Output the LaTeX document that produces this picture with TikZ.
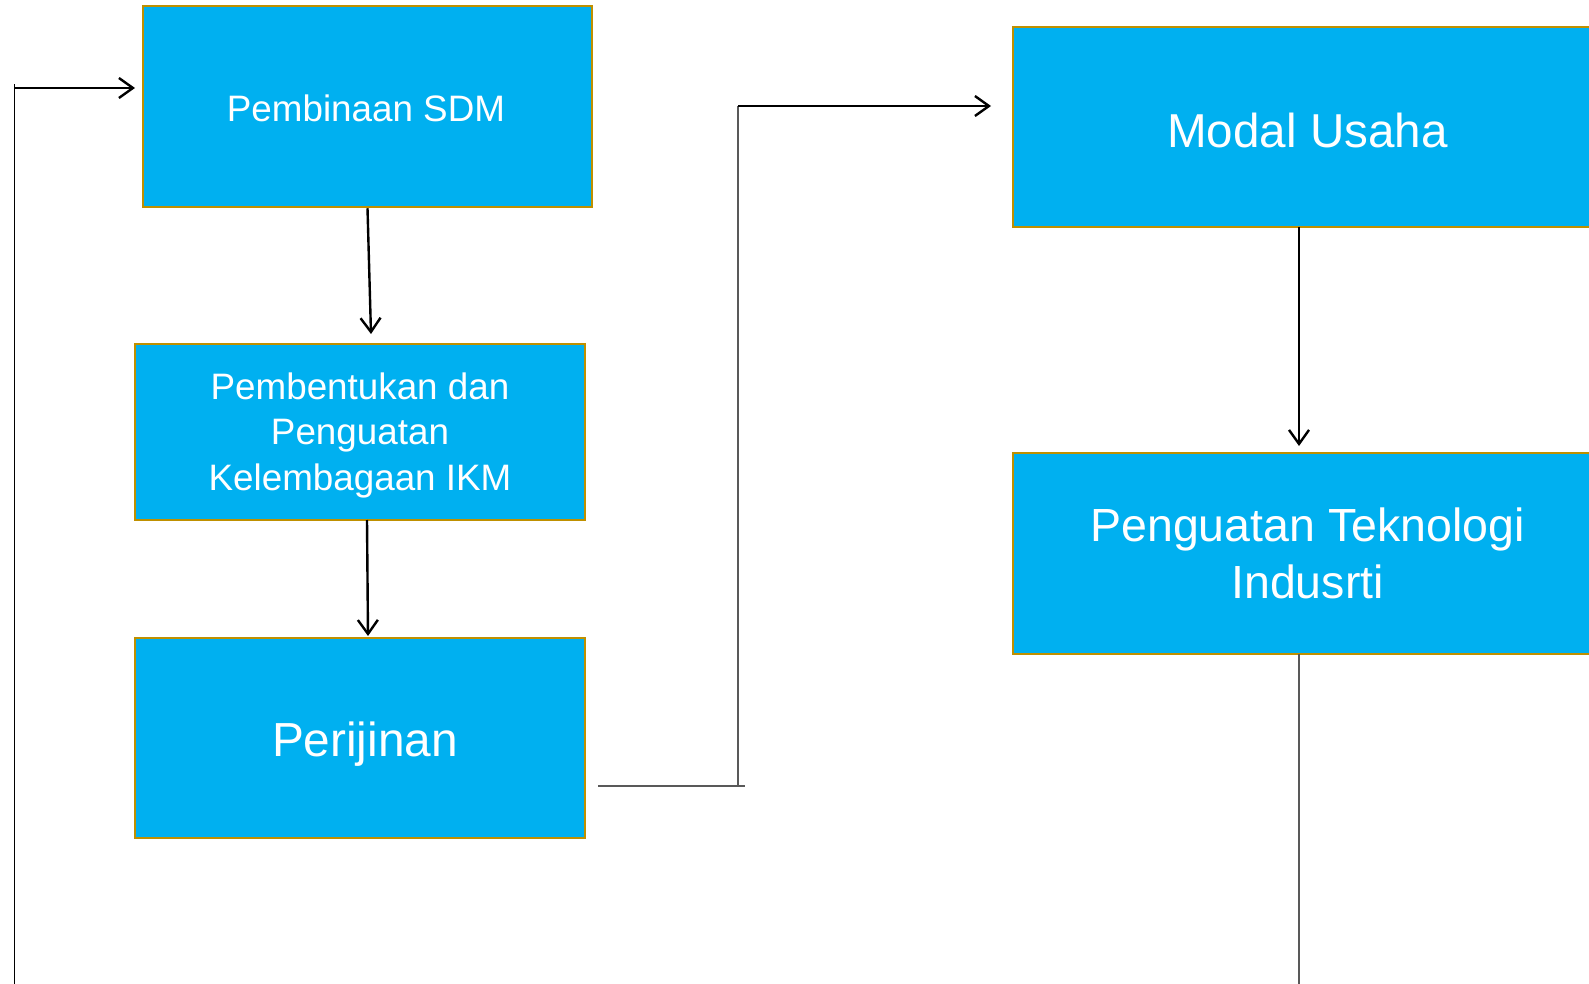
\documentclass[tikz,border=0pt]{standalone}
\usepackage{fontspec}
\setmainfont{Liberation Sans}
\usetikzlibrary{arrows.meta,calc}
\definecolor{boxblue}{HTML}{00B0F0}
\definecolor{boxedge}{HTML}{BF9000}
\definecolor{conngray}{HTML}{595959}
\newcommand{\lowered}[2]{\raisebox{-#1}[\height][\depth]{#2}}
\tikzset{
  procbox/.style={rectangle, draw=boxedge, line width=2.5pt, fill=boxblue, text=white, align=center, inner sep=0pt},
  arr/.style={draw=black, line width=2.4pt, -{Straight Barb[length=14pt,width=20pt,line width=2.4pt]}},
  thinline/.style={draw=black, line width=1.5pt},
  grayline/.style={draw=conngray, line width=1.8pt}
}
\begin{document}
\begin{tikzpicture}[x=1pt,y=-1pt]
\useasboundingbox (0,0) rectangle (1589,984);
\fill[white] (0,0) rectangle (1589,984);
\clip (0,0) rectangle (1589,984);
% boxes
\node[procbox, minimum width=449pt, minimum height=201pt, font=\fontsize{36.8}{45.6}\selectfont] (b1) at (367.5,106.5) {\lowered{1.5pt}{Pembinaan SDM\hspace*{3pt}}};
\node[procbox, minimum width=450pt, minimum height=176pt, font=\fontsize{36.8}{45.6}\selectfont] (b2) at (360,432) {\lowered{3.5pt}{\begin{tabular}{@{}c@{}}Pembentukan dan\\Penguatan\\Kelembagaan IKM\end{tabular}}};
\node[procbox, minimum width=450pt, minimum height=200pt, font=\fontsize{47.8}{57}\selectfont] (b3) at (360,738) {\lowered{6pt}{\hspace*{10pt}Perijinan}};
\node[procbox, minimum width=589pt, minimum height=200pt, font=\fontsize{47.6}{57}\selectfont] (b4) at (1307.5,127) {\lowered{3pt}{Modal Usaha}};
\node[procbox, minimum width=589pt, minimum height=201pt, font=\fontsize{46.5}{57}\selectfont] (b5) at (1307.5,553.5) {\lowered{5pt}{\begin{tabular}{@{}c@{}}Penguatan Teknologi\\Indusrti\end{tabular}}};
% coordinates
\coordinate (a1e) at (371,334);
\coordinate (a2s) at (367,520);
\coordinate (a2e) at (368,636);
\coordinate (p0) at (598,786);
\coordinate (p1) at (745,786);
\coordinate (pv) at (738,786);
\coordinate (pt) at (738,106);
\coordinate (pa) at (991,106);
\coordinate (lb) at (14.6,984);
\coordinate (lt) at (14.6,84);
\coordinate (la) at (14.6,88);
\coordinate (le) at (135,88);
\coordinate (m1) at (1299,227);
\coordinate (m2) at (1299,446);
\coordinate (n1) at (1299,654);
\coordinate (n2) at (1299,984);
% connectors
\draw[arr] (b1.south) -- (a1e);
\draw[arr] (a2s) -- (a2e);
\draw[grayline, line width=1.5pt] (p0) -- (p1);
\draw[grayline] (pv) -- (pt);
\draw[arr] (pt) -- (pa);
\draw[thinline] (lb) -- (lt);
\draw[arr] (la) -- (le);
\draw[arr] (m1) -- (m2);
\draw[grayline, line width=1.3pt] (n1) -- (n2);
\end{tikzpicture}
\end{document}
